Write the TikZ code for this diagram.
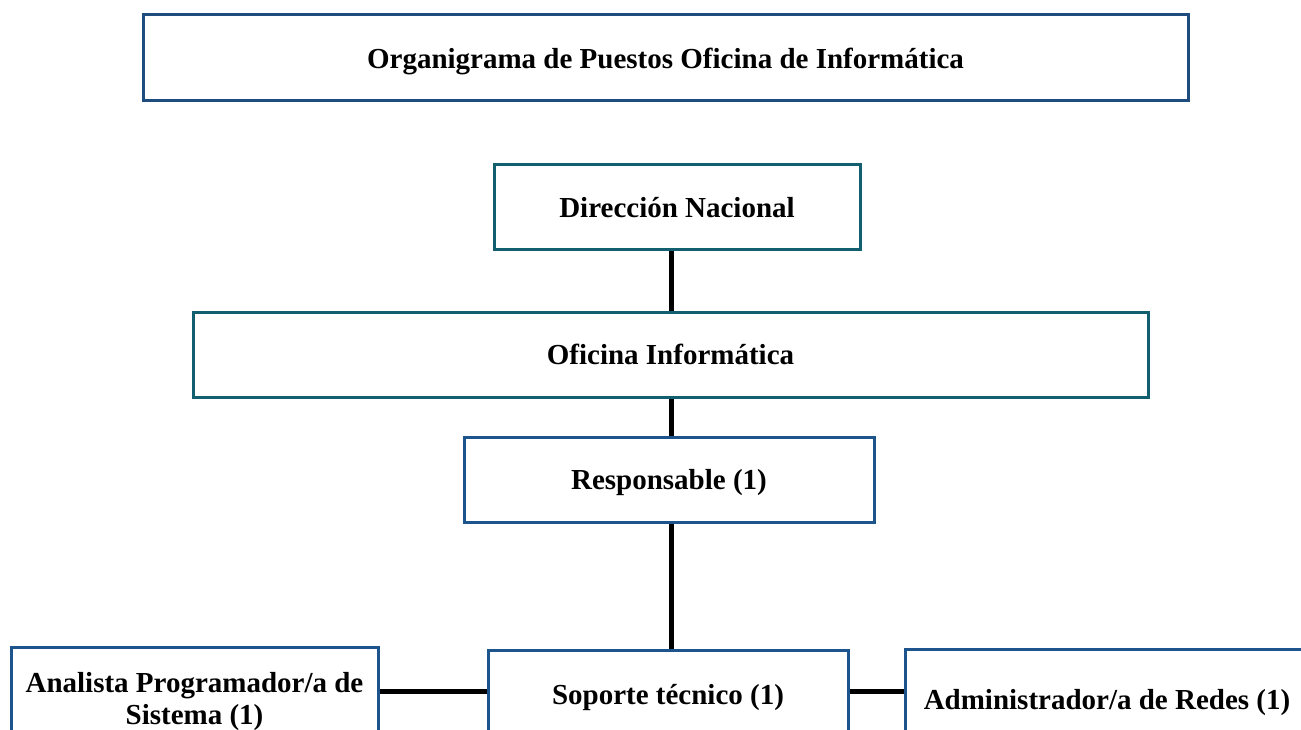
\documentclass[tikz,border=0pt]{standalone}
\usepackage{fontspec}
\setmainfont{Liberation Serif}
\usetikzlibrary{positioning}
\definecolor{titleblue}{HTML}{1F4C7E}
\definecolor{unitteal}{HTML}{12606F}
\definecolor{postblue}{HTML}{1E548E}
\tikzset{
  orgbox/.style={draw, line width=3pt, fill=white, inner sep=0pt, align=center,
        text depth=0pt, font=\fontsize{29}{32}\selectfont\bfseries},
  unitbox/.style={orgbox, draw=unitteal},
  postbox/.style={orgbox, draw=postblue},
  link/.style={draw=black, line width=5pt}
}

\begin{document}
\begin{tikzpicture}[x=1pt,y=-1pt]
\useasboundingbox (0,0) rectangle (1301,730);
\clip (0,0) rectangle (1301,730);
% Title Frame
\node[orgbox, draw=titleblue, minimum width=1045pt, minimum height=86pt]
      (titulo) at (665.5,58) {Organigrama de Puestos Oficina de Informática};
% Units
\node[unitbox, minimum width=366pt, minimum height=84pt]
      (direccion) at (677,207) {Dirección Nacional};
\node[unitbox, minimum width=955pt, minimum height=85pt]
      (oficina) at (670.5,354.5) {Oficina Informática};
% Posts
\node[postbox, minimum width=410pt, minimum height=85pt]
      (responsable) at (669,479.5) {Responsable (1)};
\node[postbox, anchor=north, minimum width=360pt, minimum height=88pt]
      (soporte) at (668,649) {Soporte técnico (1)};
\node[postbox, anchor=north, minimum width=367pt, minimum height=102pt]
      (analista) at (194.5,646) {Analista Programador/a de\\Sistema (1)};
\node[postbox, anchor=north, minimum width=404pt, minimum height=100pt]
      (redes) at (1107,648) {Administrador/a de Redes (1)};
% Connectors
\draw[link] (oficina.north -| 671,0) -- (direccion.south -| 671,0);
\draw[link] (oficina.south -| 671,0) -- (responsable.north -| 671,0);
\draw[link] (responsable.south -| 671,0) -- (soporte.north -| 671,0);
\draw[link] (analista.east |- 0,691) -- (soporte.west |- 0,691);
\draw[link] (soporte.east |- 0,691) -- (redes.west |- 0,691);
\end{tikzpicture}
\end{document}
